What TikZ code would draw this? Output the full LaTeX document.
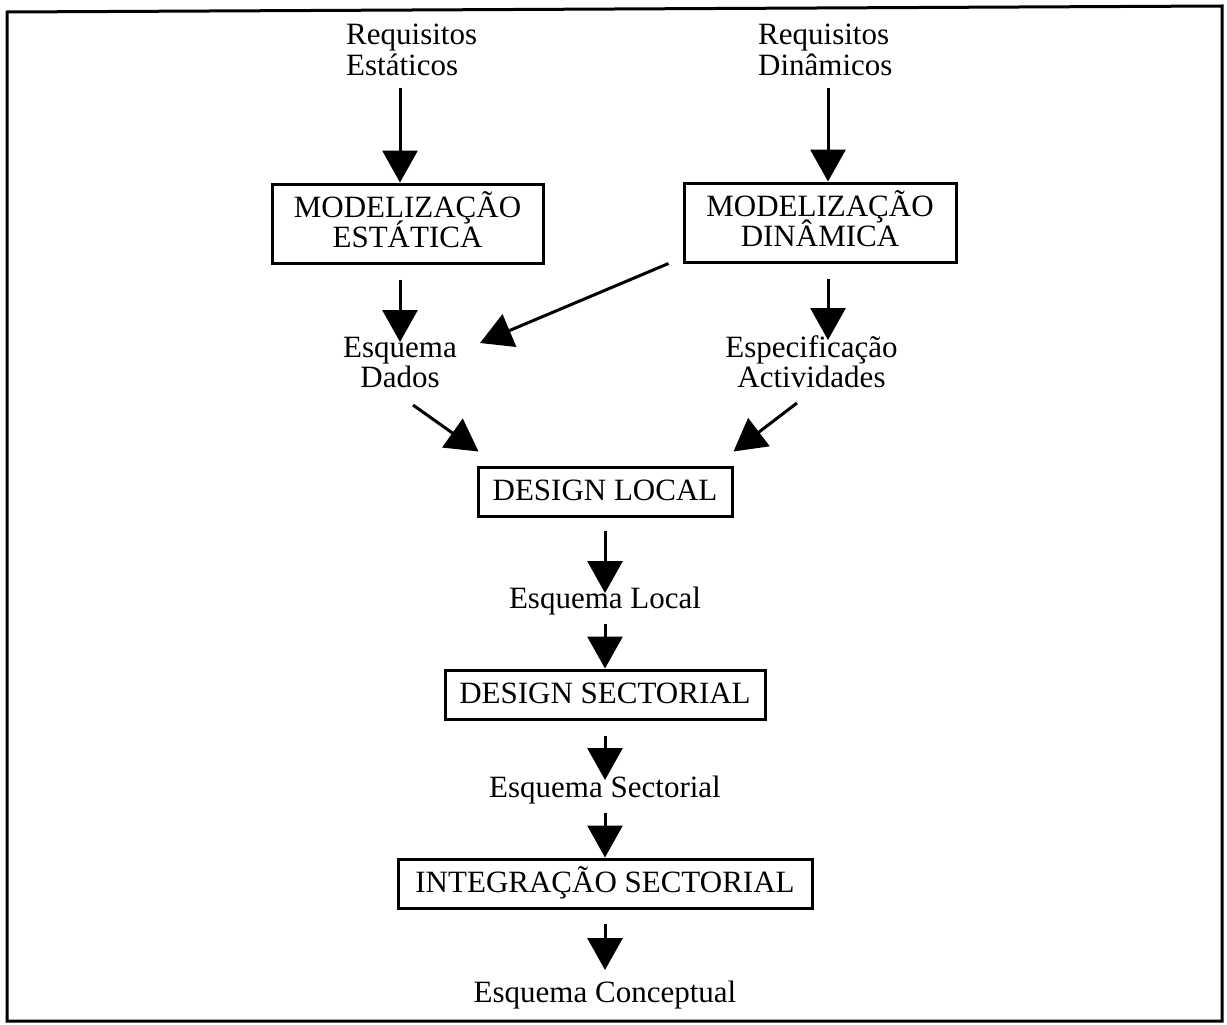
\documentclass[tikz,border=0pt]{standalone}
\usepackage{fontspec}
\setmainfont{Liberation Serif}
\usetikzlibrary{arrows.meta}

\newcommand\lbfont{\fontsize{31}{30}\selectfont}
% two stacked lines; baseline = baseline of the first line
\newcommand\twolines[3][c]{\begin{tabular}[t]{@{}#1@{}}#2\\#3\end{tabular}}
% two stacked lines inside a box, accents kept out of the line spacing
\newcommand\boxlines[2]{\begin{tabular}{@{}c@{}}\rule{0pt}{26pt}\smash{#1}\\\smash{#2}\end{tabular}}

\begin{document}
\begin{tikzpicture}[x=1pt,y=-1pt,
  lbl/.style={font=\lbfont, inner sep=0pt},
  blk/.style={draw, line width=3pt, inner sep=0pt, font=\lbfont},
  oneline/.style={text height=20.5pt, text depth=3pt},
  arr/.style={line width=3pt, -{Triangle[length=32pt,width=35pt]}},
  frame/.style={line width=3pt, line join=miter}]

\useasboundingbox (0,0) rectangle (1227,1025);
\draw[frame] (7,12) -- (1222,6) -- (1222,1021) -- (7,1021) -- cycle;

% inputs
\node[lbl, anchor=base west] (reqE) at (346,45) {\twolines[l]{Requisitos}{Estáticos}};
\node[lbl, anchor=base west] (reqD) at (758,45) {\twolines[l]{Requisitos}{Dinâmicos}};

% modelling stages
\node[blk, minimum width=271pt, minimum height=79pt] (me) at (407.5,223.5) {\boxlines{MODELIZAÇÃO}{ESTÁTICA}};
\node[blk, minimum width=272pt, minimum height=79pt] (md) at (820,222.5) {\boxlines{MODELIZAÇÃO}{DINÂMICA}};

% intermediate results
\node[lbl, anchor=base] (dados) at (400,357) {\twolines{Esquema}{Dados}};
\node[lbl, anchor=base] (espec) at (811.5,357) {\twolines{Especificação}{Actividades}};

% design chain
\node[blk, oneline, minimum width=254pt, minimum height=49pt] (dl) at (605,491.5) {DESIGN LOCAL};
\node[lbl, anchor=base] (eloc) at (605,608) {Esquema Local};
\node[blk, oneline, minimum width=320pt, minimum height=49pt] (ds) at (605,694.5) {DESIGN SECTORIAL};
\node[lbl, anchor=base] (esec) at (605,797) {Esquema Sectorial};
\node[blk, oneline, minimum width=414pt, minimum height=49pt] (is) at (605,883.5) {INTEGRAÇÃO SECTORIAL};
\node[lbl, anchor=base] (econ) at (605,1002) {Esquema Conceptual};

% connectors
\draw[arr] ([xshift=54pt,yshift=-43pt]reqE.base west) -- ([xshift=-7.5pt]me.north);
\draw[arr] ([xshift=70pt,yshift=-43pt]reqD.base west) -- ([xshift=8pt]md.north);
\draw[arr] ([xshift=-7.5pt,yshift=-15pt]me.south) -- ([yshift=15pt]dados.base);
\draw[arr] ([xshift=8pt,yshift=-15pt]md.south) -- ([xshift=16.5pt,yshift=17pt]espec.base);
\draw[arr] ([xshift=-14pt]md.south west) -- ([xshift=80pt,yshift=14pt]dados.base);
\draw[arr] ([xshift=13pt,yshift=-48pt]dados.base) -- ([xshift=2pt,yshift=14pt]dl.north west);
\draw[arr] ([xshift=-14.5pt,yshift=-46pt]espec.base) -- ([yshift=14pt]dl.north east);
\draw[arr] ([yshift=-13pt]dl.south) -- ([yshift=15pt]eloc.base);
\draw[arr] ([yshift=-16pt]eloc.base) -- (ds.north);
\draw[arr] ([yshift=-15pt]ds.south) -- ([yshift=17pt]esec.base);
\draw[arr] ([yshift=-16pt]esec.base) -- (is.north);
\draw[arr] ([yshift=-14pt]is.south) -- ([yshift=32pt]econ.base);
\end{tikzpicture}
\end{document}
